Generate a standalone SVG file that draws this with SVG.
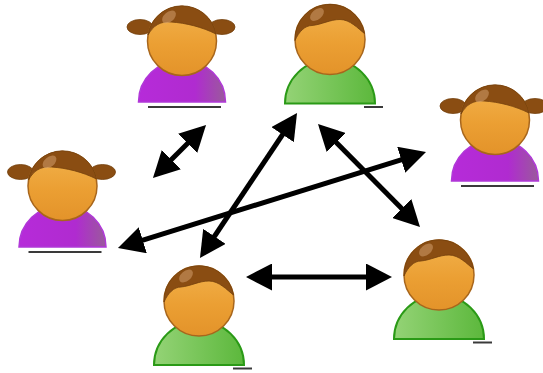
<svg xmlns="http://www.w3.org/2000/svg" xmlns:xlink="http://www.w3.org/1999/xlink" width="543" height="373" viewBox="0 0 543 373">
  <style>
    .face { fill: url(#faceGrad); stroke: #a8661c; stroke-width: 1.5; }
    .hair { fill: #8a4d12; stroke: #74400c; stroke-width: 0.8; }
    .shine { fill: #e0b080; opacity: 0.45; }
    .girl-body { fill: url(#purpleGrad); stroke: #b038d8; stroke-width: 1.5; }
    .boy-body { fill: url(#greenGrad); stroke: #2a9a16; stroke-width: 2; }
    .shadow { stroke: #3a3a3a; stroke-width: 2; }
    .link { stroke: #000; stroke-width: 5; fill: none; marker-start: url(#head); marker-end: url(#head); }
  </style>
  <defs>
    <linearGradient id="faceGrad" x1="0" y1="0" x2="0" y2="1">
      <stop offset="0" stop-color="#f2b24c"/>
      <stop offset="0.55" stop-color="#eb9f33"/>
      <stop offset="1" stop-color="#e3932a"/>
    </linearGradient>
    <linearGradient id="purpleGrad" x1="0" y1="0" x2="1" y2="0">
      <stop offset="0" stop-color="#b62bd9"/>
      <stop offset="0.65" stop-color="#b02bd0"/>
      <stop offset="1" stop-color="#9a5a9c"/>
    </linearGradient>
    <linearGradient id="greenGrad" x1="0" y1="0" x2="1" y2="0">
      <stop offset="0" stop-color="#94d376"/>
      <stop offset="1" stop-color="#5cb83c"/>
    </linearGradient>
    <marker id="head" viewBox="0 0 26 27" markerUnits="userSpaceOnUse" markerWidth="26" markerHeight="27" refX="20" refY="13.5" orient="auto-start-reverse">
      <path d="M0,0 L26,13.5 L0,27 Z" fill="#000"/>
    </marker>
    <!-- person with pigtails, origin at the centre of the head -->
    <g id="girl">
      <path class="girl-body" d="M-43.5,61 A43.5,42 0 0 1 43.5,61 Z"/>
      <line class="shadow" x1="-34" y1="66" x2="39" y2="66"/>
      <ellipse class="hair" cx="-42" cy="-14" rx="13" ry="7.5"/>
      <ellipse class="hair" cx="40" cy="-14" rx="13" ry="7.5"/>
      <circle class="face" r="34.5"/>
      <path class="hair" d="M-34,-6 C-29,-15 -22,-20 -11,-19 C4,-18 20,-14 34,-7 A34.5,34.5 0 0 0 -34,-6 Z"/>
      <ellipse class="shine" cx="-13" cy="-24" rx="8" ry="5" transform="rotate(-40 -13 -24)"/>
    </g>
    <!-- person with short hair, origin at the centre of the head -->
    <g id="boy">
      <path class="boy-body" d="M-45,64 A45,44 0 0 1 45,64 Z"/>
      <line class="shadow" x1="34" y1="67.5" x2="53" y2="67.5"/>
      <circle class="face" r="35"/>
      <path class="hair" d="M-35,1 C-31,-8 -25,-14 -18,-14 C-8,-15 0,-20 10,-20 C20,-20 28,-11 34.5,-6 A35,35 0 0 0 -35,1 Z"/>
      <ellipse class="shine" cx="-13" cy="-25" rx="8" ry="5" transform="rotate(-40 -13 -25)"/>
    </g>
  </defs>

  <g id="girl-top" transform="translate(182,41)"><use xlink:href="#girl"/></g>
  <g id="boy-top" transform="translate(330,39.5)"><use xlink:href="#boy"/></g>
  <g id="girl-left" transform="translate(62.5,186)"><use xlink:href="#girl"/></g>
  <g id="girl-right" transform="translate(495,120)"><use xlink:href="#girl"/></g>
  <g id="boy-bottom-left" transform="translate(199,301)"><use xlink:href="#boy"/></g>
  <g id="boy-bottom-right" transform="translate(439,275)"><use xlink:href="#boy"/></g>

  <g id="connectors">
    <line class="link" x1="157.2" y1="173.8" x2="201.8" y2="129.2"/>
    <line class="link" x1="252" y1="277" x2="386" y2="277"/>
    <line class="link" x1="123.7" y1="246.2" x2="420.3" y2="153.8"/>
    <line class="link" x1="293.7" y1="118" x2="203.3" y2="253"/>
    <line class="link" x1="322.2" y1="128.3" x2="415.8" y2="222.7"/>
  </g>
</svg>
